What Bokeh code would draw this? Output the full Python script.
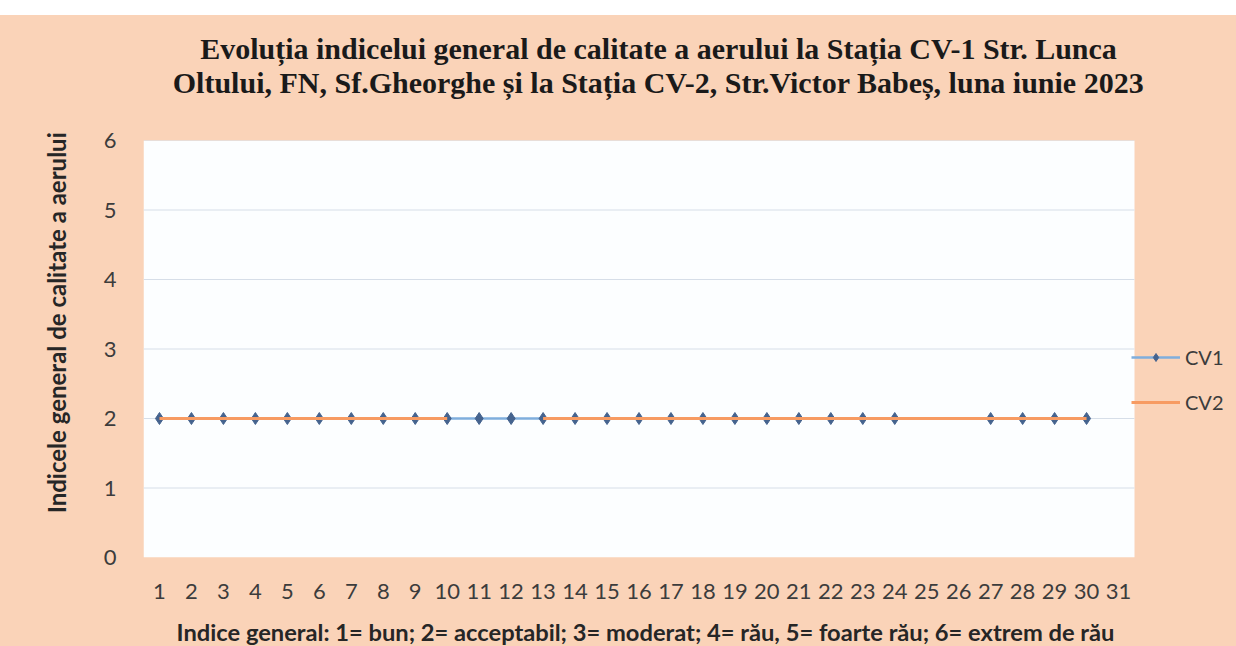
from bokeh.plotting import figure
from bokeh.models import Range1d, FixedTicker, Legend, LegendItem, Spacer, Label
from bokeh.layouts import column
from bokeh.embed import file_html
from bokeh.resources import INLINE

days = list(range(1, 32))
nan = float("nan")
cv1 = [2] * 24 + [nan, nan] + [2] * 4 + [nan]
cv2 = [2] * 10 + [nan, nan] + [2] * 18 + [nan]
y_ticks = [0, 1, 2, 3, 4, 5, 6]
title_lines = [
    "Evoluția indicelui general de calitate a aerului la Stația CV-1 Str. Lunca",
    "Oltului, FN, Sf.Gheorghe și la Stația CV-2, Str.Victor Babeș, luna iunie 2023",
]
y_label = "Indicele general  de calitate a aerului"
x_label = "Indice general: 1= bun; 2= acceptabil; 3= moderat; 4= rău, 5= foarte rău; 6= extrem de rău"

PEACH = "#FAD3B8"
TXT = "#3c3c3c"
W = 1236
LEFT = 143


def strip(height):
    f = figure(width=W, height=height, output_backend="svg", toolbar_location=None,
               x_range=Range1d(LEFT, W), y_range=Range1d(0, height),
               min_border_left=LEFT, min_border_right=0, min_border_top=0, min_border_bottom=0,
               x_axis_type=None, y_axis_type=None)
    f.border_fill_color = PEACH
    f.background_fill_alpha = 0
    f.outline_line_color = None
    f.grid.visible = False
    return f


# ---- title strip (page y 15..125) ----
t = strip(110)
for txt, ty in zip(title_lines, [77, 43]):
    t.add_layout(Label(x=658, y=ty, text=txt, text_align="center", text_baseline="middle",
                       text_font="Liberation Serif", text_font_style="bold",
                       text_font_size="30px", text_color="#1a1a1a"))

# ---- main chart (page y 125..605) ----
px_per_day = 991 / len(days)
x_end = days[-1] + 0.5 + (W - LEFT - 991) / px_per_day
p = figure(width=W, height=480, output_backend="svg", toolbar_location=None,
           x_range=Range1d(days[0] - 0.5, x_end), y_range=Range1d(y_ticks[0], y_ticks[-1]),
           min_border_left=LEFT, min_border_right=0, min_border_top=15, min_border_bottom=48)
p.border_fill_color = PEACH
p.background_fill_alpha = 0
p.outline_line_color = None
p.grid.visible = False

# white plotting area and horizontal gridlines
p.quad(left=days[0] - 0.5, right=days[-1] + 0.5, bottom=y_ticks[0], top=y_ticks[-1],
       fill_color="#FCFEFF", line_color=None)
p.segment(x0=[days[0] - 0.5] * (len(y_ticks) - 1), x1=[days[-1] + 0.5] * (len(y_ticks) - 1),
          y0=y_ticks[1:], y1=y_ticks[1:], line_color="#D6DEE8", line_width=1)

p.xaxis.ticker = FixedTicker(ticks=days)
p.yaxis.ticker = FixedTicker(ticks=y_ticks)
for ax in (p.xaxis[0], p.yaxis[0]):
    ax.axis_line_color = None
    ax.major_tick_line_color = None
    ax.minor_tick_line_color = None
    ax.major_label_text_font = "Lato"
    ax.major_label_text_font_size = "22px"
    ax.major_label_text_color = TXT
p.xaxis.major_label_standoff = 20
p.yaxis.major_label_standoff = 21
# leading no-break spaces move the rotated title up to sit where the original one does
p.yaxis.axis_label = "\u00a0" * 10 + y_label
p.yaxis.axis_label_text_font = "Lato"
p.yaxis.axis_label_text_font_style = "bold"
p.yaxis.axis_label_text_font_size = "24px"
p.yaxis.axis_label_text_color = "#262626"
p.yaxis.axis_label_standoff = 30

r1l = p.line(days, cv1, line_color="#7FAEDD", line_width=2.5)
r1m = p.scatter(days, cv1, marker="diamond", size=12, fill_color="#45638E", line_color="#45638E")
r2l = p.line(days, cv2, line_color="#F79B62", line_width=3)

legend = Legend(items=[LegendItem(label="CV1", renderers=[r1l, r1m]),
                       LegendItem(label="CV2", renderers=[r2l])],
                location=(988, 143), orientation="vertical",
                glyph_width=49, glyph_height=20, label_height=20, spacing=21,
                padding=0, margin=0, border_line_color=None, background_fill_alpha=0,
                label_text_font="Lato", label_text_font_size="20px", label_text_color=TXT,
                label_standoff=5)
p.add_layout(legend)

# ---- x axis title strip (page y 605..646) ----
b = strip(41)
b.add_layout(Label(x=645, y=15, text=x_label, text_align="center", text_baseline="middle",
                   text_font="Lato", text_font_style="bold", text_font_size="23.7px",
                   text_color="#262626"))

top_gap = Spacer(height=15, width=W, styles={"background-color": "white"})
layout = column(top_gap, t, p, b, spacing=0, styles={"background-color": PEACH})
open("out.html", "w").write(file_html(layout, INLINE))
